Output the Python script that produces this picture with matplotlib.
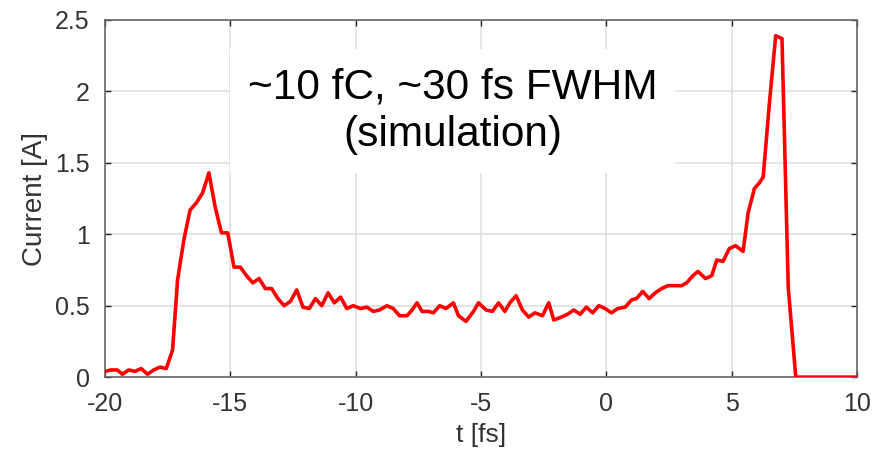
"""Профиль тока пучка (симуляция)."""

import matplotlib
matplotlib.use("Agg")
from matplotlib import pyplot as plt

plt.rcParams["font.family"] = ["Liberation Sans", "DejaVu Sans"]
plt.rcParams["axes.unicode_minus"] = False  # обычный дефис, как в оригинале

# время, фс
T_FS = [
    -20.0, -19.75, -19.5, -19.3, -19.05, -18.8, -18.55, -18.3, -18.05,
    -17.8, -17.55, -17.3, -17.1, -16.85, -16.6, -16.35, -16.1, -15.85,
    -15.6, -15.35, -15.1, -14.85, -14.6, -14.35, -14.1, -13.85, -13.6,
    -13.35, -13.1, -12.85, -12.6, -12.35, -12.1, -11.85, -11.6, -11.35,
    -11.1, -10.85, -10.6, -10.35, -10.1, -9.8, -9.55, -9.3, -9.05, -8.75,
    -8.5, -8.25, -7.95, -7.75, -7.55, -7.35, -7.1, -6.9, -6.65, -6.4, -6.1,
    -5.9, -5.6, -5.3, -5.1, -4.8, -4.55, -4.3, -4.05, -3.85, -3.6, -3.35,
    -3.1, -2.85, -2.55, -2.3, -2.1, -1.8, -1.55, -1.3, -1.05, -0.8, -0.55,
    -0.3, -0.05, 0.2, 0.45, 0.75, 1.0, 1.2, 1.45, 1.7, 1.95, 2.2, 2.45,
    2.75, 3.0, 3.2, 3.45, 3.65, 3.95, 4.2, 4.4, 4.65, 4.9, 5.15, 5.45,
    5.65, 5.9, 6.1, 6.25, 6.5, 6.75, 7.0, 7.25, 7.55, 10.0,
]
# ток, А
CURRENT = [
    0.04, 0.05, 0.05, 0.02, 0.05, 0.04, 0.06, 0.02, 0.05,
    0.07, 0.06, 0.19, 0.68, 0.96, 1.17, 1.22, 1.29, 1.43,
    1.19, 1.01, 1.01, 0.77, 0.77, 0.71, 0.66, 0.69, 0.62,
    0.62, 0.55, 0.50, 0.53, 0.61, 0.49, 0.48, 0.55, 0.50,
    0.59, 0.52, 0.56, 0.48, 0.50, 0.48, 0.49, 0.46, 0.47, 0.50,
    0.48, 0.43, 0.43, 0.47, 0.52, 0.46, 0.46, 0.45, 0.50, 0.48, 0.52,
    0.43, 0.39, 0.46, 0.52, 0.47, 0.46, 0.52, 0.46, 0.52, 0.57, 0.47,
    0.42, 0.45, 0.43, 0.52, 0.40, 0.42, 0.44, 0.47, 0.44, 0.49, 0.45,
    0.50, 0.48, 0.45, 0.48, 0.49, 0.54, 0.55, 0.60, 0.55, 0.59, 0.62, 0.64,
    0.64, 0.64, 0.66, 0.71, 0.74, 0.69, 0.71, 0.82, 0.81, 0.90, 0.92, 0.88,
    1.15, 1.32, 1.36, 1.40, 1.92, 2.39, 2.37, 0.63, 0.0, 0.0,
]
X_TICKS = [-20, -15, -10, -5, 0, 5, 10]
Y_TICKS = [0, 0.5, 1, 1.5, 2, 2.5]
Y_TICK_LABELS = ["0", "0.5", "1", "1.5", "2", "2.5"]
NOTE = "~10 fC, ~30 fs FWHM\n(simulation)"

fig = plt.figure(figsize=(8.81, 4.65), dpi=100)
ax = fig.add_axes([0.119, 0.189, 0.854, 0.768])

ax.plot(T_FS, CURRENT, color="#ff0000", lw=2.6, zorder=3)

ax.set_xlim(-20, 10)
ax.set_ylim(0, 2.5)
ax.set_xticks(X_TICKS)
ax.set_yticks(Y_TICKS, Y_TICK_LABELS)
ax.grid(True, color="#dcdcdc", lw=1.1)
ax.set_axisbelow(True)
ax.tick_params(direction="in", length=4, width=1, color="#262626",
               top=True, right=True, labelsize=18, labelcolor="#333333",
               pad=11)
for sp in ax.spines.values():
    sp.set_color("#666666")
    sp.set_linewidth(1.2)

ax.set_xlabel("t [fs]", fontsize=19, color="#333333", labelpad=5)
ax.set_ylabel("Current [A]", fontsize=20, color="#333333", labelpad=5)

ax.text(0.462, 0.745, NOTE, transform=ax.transAxes, ha="center",
        va="center", fontsize=30.5, linespacing=1.25, zorder=2,
        bbox=dict(boxstyle="square,pad=0.42", fc="white", ec="none"))

fig.savefig("out.png", dpi=100)
